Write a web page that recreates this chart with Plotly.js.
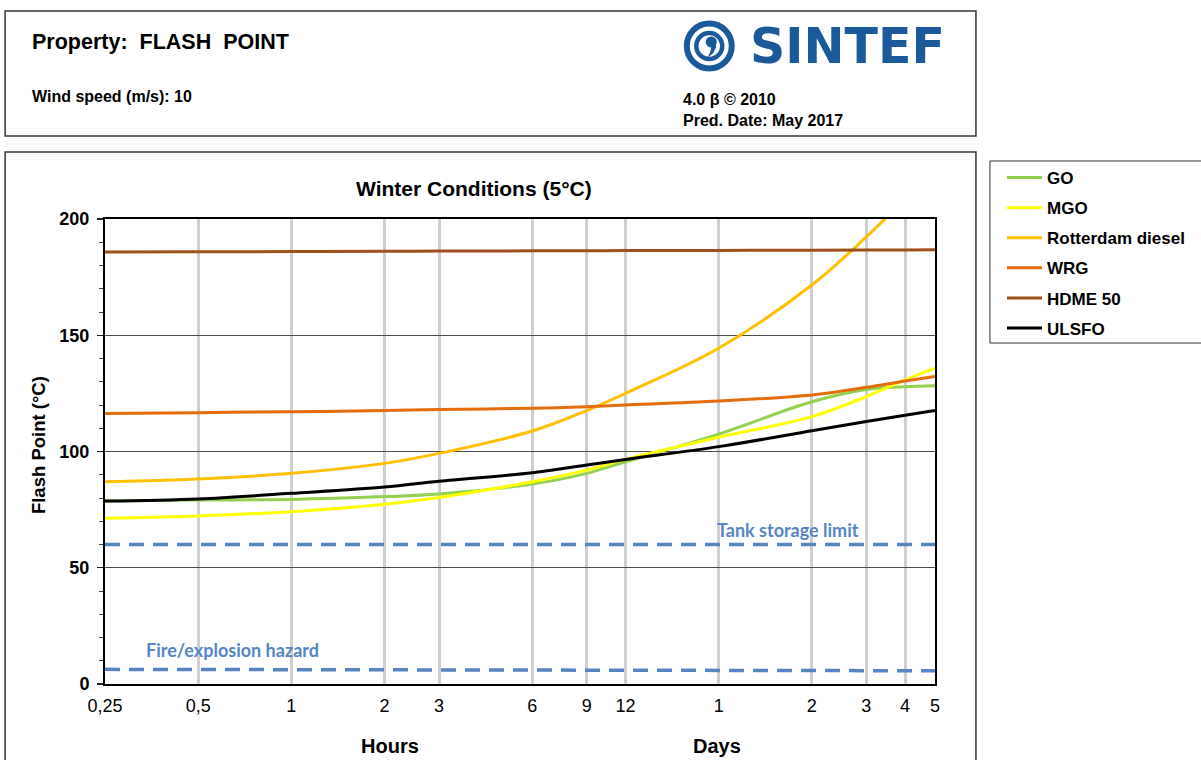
<!DOCTYPE html>
<html>
<head>
<meta charset="utf-8">
<script src="https://cdn.plot.ly/plotly-3.0.1.min.js"></script>
<style>
html,body{margin:0;padding:0;background:#fff;}
#chart{width:1201px;height:760px;}
</style>
</head>
<body>
<div id="chart"></div>
<script>
// ---- data (time in hours) ----
const hours = [0.25, 0.5, 1, 2, 3, 6, 9, 12, 24, 48, 72, 96, 120];
const goVals = [78.7, 79.1, 79.4, 80.6, 81.7, 86.0, 90.6, 95.6, 107.5, 121.4, 126.7, 127.9, 128.3];
const mgoVals = [71.3, 72.3, 74.1, 77.3, 80.2, 87.0, 92.0, 96.6, 106.1, 115.0, 123.6, 130.8, 135.8];
const rotterdamVals = [87.0, 88.2, 90.6, 94.9, 99.2, 108.8, 117.6, 125.0, 144.4, 171.6, 192.3, 208.5, null];
const wrgVals = [116.3, 116.7, 117.1, 117.6, 118.1, 118.6, 119.3, 120.0, 121.7, 124.3, 127.6, 130.3, 132.3];
const hdmeVals = [185.8, 185.9, 186.0, 186.1, 186.2, 186.3, 186.3, 186.4, 186.5, 186.6, 186.7, 186.7, 186.8];
const ulsfoVals = [78.7, 79.6, 82.0, 84.7, 87.2, 90.9, 94.2, 96.6, 102.1, 108.9, 112.9, 115.6, 117.6];

const limitHours = [0.25, 120];
const tankLimit = [60, 60];
const fireLimit = [6.3, 5.7];

const tickHours = [0.25, 0.5, 1, 2, 3, 6, 9, 12, 24, 48, 72, 96, 120];
const tickLabels = ['0,25', '0,5', '1', '2', '3', '6', '9', '12', '1', '2', '3', '4', '5'];

const seriesNames = ['GO', 'MGO', 'Rotterdam diesel', 'WRG', 'HDME 50', 'ULSFO'];
const seriesValues = [goVals, mgoVals, rotterdamVals, wrgVals, hdmeVals, ulsfoVals];
const seriesColors = ['#92D050', '#FFFF00', '#FFC000', '#E46C0A', '#A0501A', '#000000'];

// ---- layout geometry helpers (pixel -> paper) ----
const L = 105, R = 936, T = 219, B = 684;
const PW = R - L, PH = B - T;
const px = x => (x - L) / PW;
const py = y => (B - y) / PH;

const traces = seriesNames.map((n, i) => ({
  type: 'scatter', mode: 'lines', name: n,
  x: hours, y: seriesValues[i],
  line: {color: seriesColors[i], width: 3, shape: 'spline', smoothing: 1},
  legendgroup: 'g' + i, connectgaps: false
}));
const dashStyle = {color: '#5585C5', width: 3.5, dash: '15px,9px'};
traces.push({type: 'scatter', mode: 'lines', x: limitHours, y: tankLimit, line: dashStyle, showlegend: false});
traces.push({type: 'scatter', mode: 'lines', x: limitHours, y: fireLimit, line: dashStyle, showlegend: false});

const ann = (x, y, text, size, opts) => Object.assign({
  xref: 'paper', yref: 'paper', x: px(x), y: py(y), text: text, showarrow: false,
  xanchor: 'center', yanchor: 'middle',
  font: {family: 'Liberation Sans, Arial, sans-serif', size: size, color: '#000'}
}, opts || {});

const annotations = [
  ann(474, 188, '<b>Winter Conditions (5°C)</b>', 21),
  ann(390, 746, '<b>Hours</b>', 20),
  ann(718, 746, '<b>Days</b>', 20),
  ann(38, 445, '<b>Flash Point (°C)</b>', 18.5, {textangle: -90}),
  ann(789, 530, '<b>Tank storage limit</b>', 18, {font: {family: 'Lato, Liberation Sans, sans-serif', size: 18, color: '#5585C5'}}),
  ann(233, 650, '<b>Fire/explosion hazard</b>', 18, {font: {family: 'Lato, Liberation Sans, sans-serif', size: 18, color: '#5585C5'}}),
  ann(30, 42, '<b>Property:\u00a0 FLASH\u00a0 POINT</b>', 21.5, {xanchor: 'left'}),
  ann(30, 96, '<b>Wind speed (m/s): 10</b>', 16, {xanchor: 'left'}),
  ann(682, 99, '<b>4.0 β © 2010</b>', 16, {xanchor: 'left'}),
  ann(682, 120, '<b>Pred. Date: May 2017</b>', 16, {xanchor: 'left'}),
  ann(749, 46, '<b>SINTEF</b>', 49, {xanchor: 'left', font: {family: 'DejaVu Sans, sans-serif', size: 49, color: '#1A5A9A'}})
];

const rect = (x0, y0, x1, y1, color, w) => ({
  type: 'rect', xref: 'paper', yref: 'paper', layer: 'above',
  x0: px(x0), x1: px(x1), y0: py(y1), y1: py(y0),
  line: {color: color, width: w}, fillcolor: 'rgba(0,0,0,0)'
});
const circ = (cx, cy, r, color, w, fill) => ({
  type: 'circle', xref: 'paper', yref: 'paper', layer: 'above',
  x0: px(cx - r), x1: px(cx + r), y0: py(cy + r), y1: py(cy - r),
  line: {color: color, width: w}, fillcolor: fill || 'rgba(0,0,0,0)'
});
const pathOf = pts => 'M' + pts.map(p => px(p[0]).toFixed(5) + ',' + py(p[1]).toFixed(5)).join(' L') + ' Z';
const logoBlue = '#1A5A9A';

const shapes = [
  rect(5, 11, 977, 136, '#333', 1.5),
  rect(5, 152, 977, 775, '#333', 1.5),
  rect(991, 161, 1210, 343, '#333', 1),
  circ(710, 46, 22.5, logoBlue, 6),
  circ(710, 46, 13, logoBlue, 4.5),
  circ(712, 42, 5.5, logoBlue, 0, logoBlue),
  {type: 'path', xref: 'paper', yref: 'paper', layer: 'above', line: {width: 0}, fillcolor: logoBlue,
   path: pathOf([[716, 42], [717, 47], [714, 53], [708, 58], [711, 52], [712, 47]])}
];

const layout = {
  width: 1201, height: 760,
  margin: {l: L, r: 1201 - R, t: T, b: 760 - B, pad: 0},
  paper_bgcolor: '#fff', plot_bgcolor: '#fff',
  showlegend: true,
  legend: {x: px(1002), y: py(160), xanchor: 'left', yanchor: 'top',
           bgcolor: 'rgba(0,0,0,0)', borderwidth: 0, tracegroupgap: 5, itemwidth: 35,
           font: {family: 'Liberation Sans, Arial, sans-serif', size: 17, color: '#000', weight: 'bold'}},
  xaxis: {
    type: 'log', range: [Math.log10(0.25), Math.log10(120)],
    tickmode: 'array', tickvals: tickHours, ticktext: tickLabels,
    showgrid: true, gridcolor: '#CFCFCF', gridwidth: 3,
    showline: true, linecolor: '#000', linewidth: 2, mirror: true,
    ticks: '', zeroline: false, ticklabelstandoff: 4,
    tickfont: {family: 'Liberation Sans, Arial, sans-serif', size: 18, color: '#000'}
  },
  yaxis: {
    range: [0, 200], tickmode: 'linear', tick0: 0, dtick: 50,
    showgrid: true, gridcolor: '#4D4D4D', gridwidth: 1,
    showline: true, linecolor: '#000', linewidth: 2, mirror: true,
    ticks: 'outside', ticklen: 6, tickwidth: 1.2, tickcolor: '#222',
    minor: {dtick: 10, ticks: 'outside', ticklen: 4, tickwidth: 1, tickcolor: '#444', showgrid: false},
    zeroline: false, ticklabelstandoff: 4,
    tickfont: {family: 'Liberation Sans, Arial, sans-serif', size: 18, color: '#000', weight: 'bold'}
  },
  annotations: annotations,
  shapes: shapes
};

Plotly.newPlot('chart', traces, layout, {displayModeBar: false, staticPlot: true});
</script>
</body>
</html>
